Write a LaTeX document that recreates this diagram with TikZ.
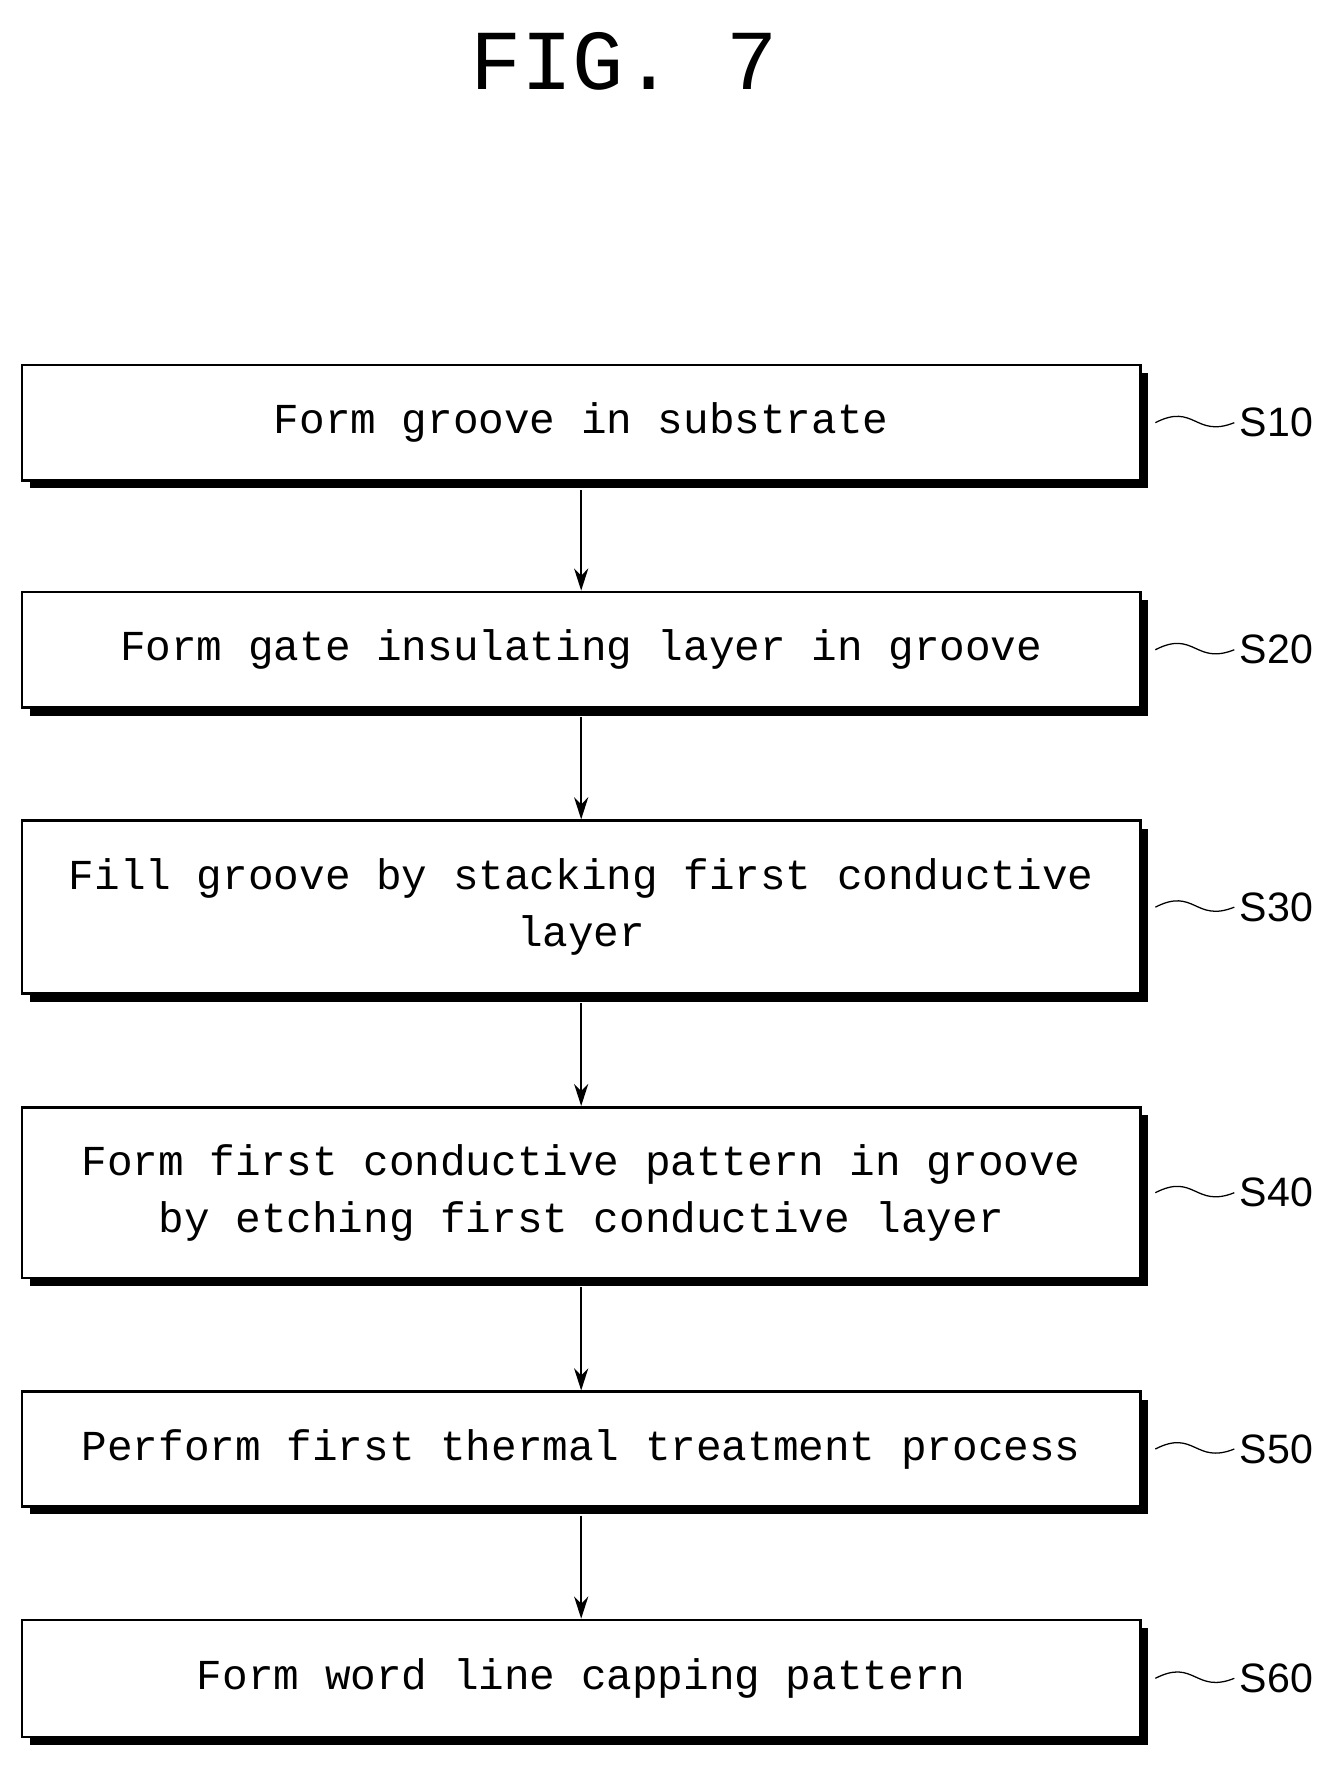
\documentclass[tikz,border=0pt]{standalone}
\usepackage{fontspec}
\setmainfont{Liberation Sans}
\newfontfamily\stepfont{Liberation Mono}
\usetikzlibrary{arrows.meta, positioning, shadows}

\begin{document}
\begin{tikzpicture}[x=0.025cm, y=-0.025cm,
        stepbox/.style={rectangle, draw, line width=1.6pt, minimum width=24.875cm, inner sep=0pt, fill=white, align=center, font=\stepfont\fontsize{27}{36}\selectfont,
            drop shadow={shadow xshift=5pt, shadow yshift=-5pt, fill=black, opacity=1}},
        tag/.style={anchor=west, font=\fontsize{26}{30}\selectfont},
        arrow/.style={-{Stealth[length=14pt, width=9pt]}, line width=1pt},
        wave/.style={line width=0.8pt}
    ]
        \useasboundingbox (0,0) rectangle (1190,1571);

        % Title
        \node[font=\stepfont\fontsize{54}{60}\selectfont] (title) at (555,55) {FIG. 7};

        % Steps
        \node[stepbox, minimum height=2.575cm] (s10) at (517,376) {Form groove in substrate};
        \node[stepbox, minimum height=2.575cm] (s20) at (517,578) {Form gate insulating layer in groove};
        \node[stepbox, minimum height=3.85cm] (s30) at (517,807) {Fill groove by stacking first conductive\\layer};
        \node[stepbox, minimum height=3.8cm] (s40) at (517,1061) {Form first conductive pattern in groove\\by etching first conductive layer};
        \node[stepbox, minimum height=2.55cm] (s50) at (517,1289) {Perform first thermal treatment process};
        \node[stepbox, minimum height=2.6cm] (s60) at (517,1493) {Form word line capping pattern};

        % Step labels
        \node[tag] (l10) at (1098,376) {S10};
        \node[tag] (l20) at (1098,578) {S20};
        \node[tag] (l30) at (1098,807) {S30};
        \node[tag] (l40) at (1098,1061) {S40};
        \node[tag] (l50) at (1098,1289) {S50};
        \node[tag] (l60) at (1098,1493) {S60};
        \foreach \s in {10,20,30,40,50,60}
            \draw[wave] ([xshift=0.3cm]s\s.east) .. controls +(35,-18) and +(-35,14) .. (l\s.west);

        % Arrows
        \draw[arrow] ([yshift=-5pt]s10.south) -- (s20.north);
        \draw[arrow] ([yshift=-5pt]s20.south) -- (s30.north);
        \draw[arrow] ([yshift=-5pt]s30.south) -- (s40.north);
        \draw[arrow] ([yshift=-5pt]s40.south) -- (s50.north);
        \draw[arrow] ([yshift=-5pt]s50.south) -- (s60.north);
\end{tikzpicture}
\end{document}
